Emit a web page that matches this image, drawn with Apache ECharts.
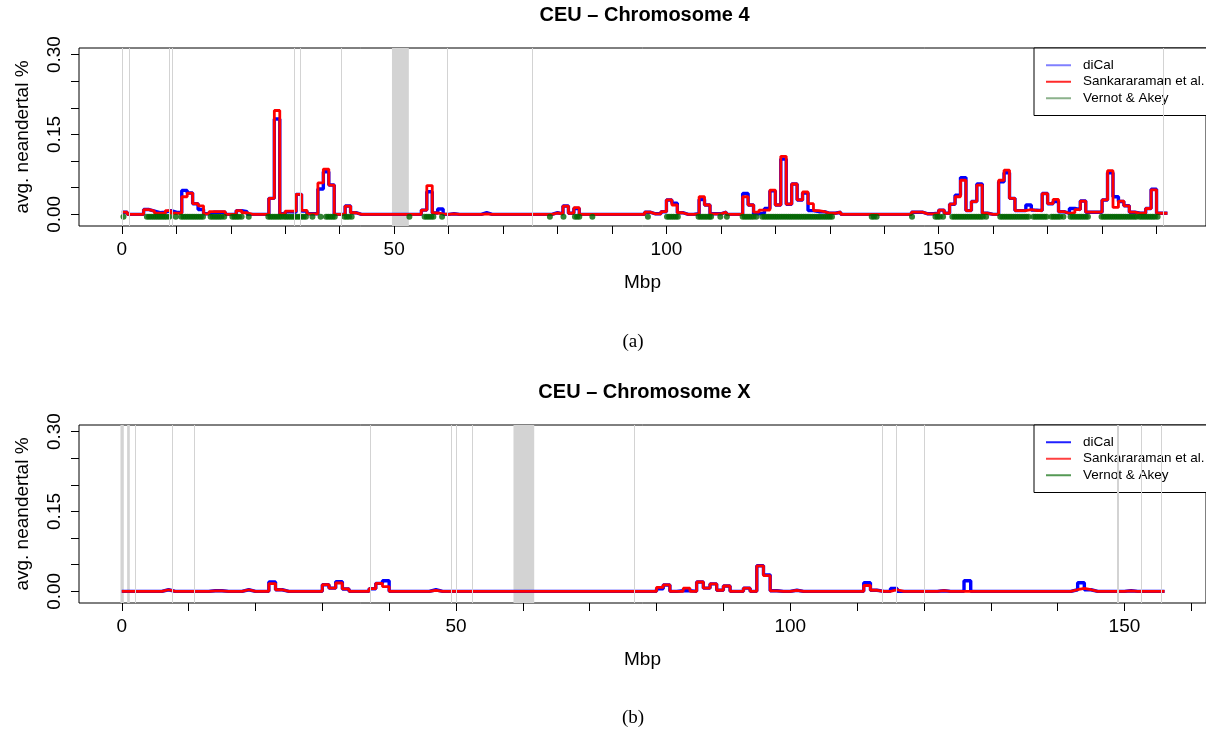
<!DOCTYPE html>
<html><head><meta charset="utf-8">
<script src="https://cdn.jsdelivr.net/npm/echarts@6/dist/echarts.min.js"></script>
<style>html,body{margin:0;padding:0;background:#fff}#c{width:1206px;height:733px}</style>
</head><body><div id="c"></div>
<script>
// ---- Chromosome 4: average Neandertal % per 1-Mbp window (window i = [i, i+1) Mbp)
const chr4Dical = [
.004,0,0,0,.009,.006,.003,.004,.007,.004, .003,.045,.040,.020,.009,.001,.004,.004,.004,0,
0,.007,.005,0,0,0,0,.030,.179,.001, .005,.004,.0375,.006,.001,.001,.0475,.080,.055,0,
0,.0156,.003,0,0,0,0,0,0,0, 0,0,0,0,0,.008,.0425,.0025,.010,0,
.001,0,0,0,0,0,.003,0,0,0, 0,0,0,0,0,0,0,0,0,.003,
.001,.0156,.002,.011,0,0,0,0,0,0, 0,0,0,0,0,0,.004,.001,.001,.005,
.027,.021,.003,0,0,.001,.028,.0175,.001,.001, .004,0,0,0,.039,.0175,.001,.002,.011,.044,
.0175,.104,.019,.057,.027,.040,.007,.005,.005,.002, .002,.004,0,0,0,0,0,0,0,0,
0,0,0,0,0,.004,.004,.001,.001,.002, .008,.002,.019,.036,.069,.007,.024,.057,.002,0,
0,.061,.078,.030,.007,.007,.0175,.008,.007,.039, .020,.024,.005,.002,.011,.009,.025,.004,.004,.004,
.027,.078,.033,.024,.016,.004,.002,.002,.011,.047, .002,.002];
const chr4Sank = [
.004,0,0,0,.009,.006,.002,.002,.007,.002, .002,.033,.040,.020,.016,.001,.005,.005,.005,0,
0,.007,.003,0,0,0,0,.030,.195,.001, .006,.006,.0375,.0075,.001,.001,.059,.085,.055,0,
0,.0156,.003,0,0,0,0,0,0,0, 0,0,0,0,0,.008,.054,.0025,.001,0,
.001,0,0,0,0,0,.001,0,0,0, 0,0,0,0,0,0,0,0,0,.0025,
.001,.0156,.002,.0125,0,0,0,0,0,0, 0,0,0,0,0,0,.004,.001,.001,.005,
.027,.0175,.003,0,0,.001,.033,.0175,.001,.001, .004,0,0,0,.033,.0175,.004,.008,.008,.0456,
.0175,.109,.019,.057,.027,.042,.020,.007,.005,.002, .002,.004,0,0,0,0,0,0,0,0,
0,0,0,0,0,.004,.004,.001,.001,.002, .008,.002,.019,.033,.064,.007,.024,.055,.002,0,
0,.064,.083,.030,.007,.007,.009,.007,.007,.039, .020,.028,.005,.002,.003,.009,.025,.004,.004,.004,
.027,.082,.013,.025,.016,.004,.002,.002,.011,.046, .002,.002];
// Vernot & Akey introgressed segment calls (Mbp), drawn as a row of dots under the baseline
const chr4Vernot = [0.3,4.6,5.0,5.4,5.8,6.2,6.6,7.0,7.4,7.8,8.2,8.7,9.9,10.9,11.3,11.7,12.1,12.5,12.9,13.3,13.7,14.1,14.5,14.9,
16.3,16.7,17.1,17.5,17.9,18.3,18.8,20.3,20.7,21.1,21.5,22.0,23.3,26.9,27.3,27.7,28.1,28.5,28.9,29.3,29.8,30.2,30.6,31.0,31.4,31.8,
32.2,32.6,33.0,33.4,33.8,35.0,36.5,37.5,37.9,38.3,38.7,39.1,40.9,41.3,41.7,42.2,52.8,55.6,56.0,56.4,56.8,57.2,58.8,78.6,81.1,
83.2,83.6,84.0,86.4,96.6,100.1,100.5,100.9,101.3,101.7,102.1,105.9,106.3,106.7,107.1,107.5,107.9,108.2,109.9,111.1,
114.0,114.4,114.8,115.2,115.6,116.0,116.5,117.6,118.0,118.4,118.8,119.2,119.6,120.0,120.4,120.8,121.2,121.6,122.0,122.4,122.8,
123.2,123.6,124.0,124.4,124.8,125.2,125.6,126.0,126.4,126.8,127.2,127.6,128.0,128.4,128.8,129.2,129.6,130.0,130.4,
137.7,138.1,138.6,145.1,149.4,149.8,150.2,150.8,152.5,152.9,153.3,153.7,154.1,154.5,154.9,155.3,155.7,156.1,156.5,156.9,157.3,
157.7,158.1,158.7,161.3,161.7,162.1,162.5,162.9,163.3,163.7,164.1,164.5,164.9,165.3,165.7,166.1,166.5,167.4,167.8,168.2,168.6,
169.0,169.4,169.8,170.7,171.1,171.5,171.9,172.3,172.9,174.2,174.6,175.0,175.4,175.8,176.2,176.6,177.0,177.4,179.9,180.3,180.7,
181.1,181.5,181.9,182.3,182.7,183.1,183.5,183.9,184.3,184.7,185.1,185.5,185.9,186.3,186.9,187.3,187.7,188.1,188.5,188.9,189.3,
189.7,190.2];
const vernotRowLevel = -0.0045;
const chr4GapLines = [0,1.3,8.7,9.2,31.7,32.8,40.3,59.8,75.4,191.2];
const chr4GapBands = [[49.6,52.7]];

// ---- Chromosome X
const chrXDical = [
0,0,0,0,0,0,.003,0,0,0, 0,0,0,.001,.001,0,0,0,.003,0,
0,0,.0175,.003,0,0,0,0,0,0, .0125,.006,.018,.0045,0,0,0,.005,.015,.020,
0,0,0,0,0,0,.003,0,0,0, 0,0,0,0,0,0,0,0,0,0,
0,0,0,0,0,0,0,0,0,0, 0,0,0,0,0,0,0,0,0,0,
.005,.012,0,.001,.001,0,.0175,.006,.014,.002, .010,0,0,.006,0,.048,.031,.001,0,0,
.002,0,0,0,0,0,0,0,0,0, 0,.016,.002,0,0,.0055,0,0,0,0,
0,0,.0012,0,0,0,.020,0,0,0, 0,0,0,0,0,0,0,0,0,0,
0,0,.003,.016,.003,0,0,0,0,0, .001,0,0,0,0,0];
const chrXSank = [
0,0,0,0,0,0,.003,0,0,0, 0,0,0,.001,.001,0,0,0,.003,0,
0,0,.0145,.003,0,0,0,0,0,0, .0125,.006,.0157,.0045,0,0,0,.005,.015,.009,
0,0,0,0,0,0,.002,0,0,0, 0,0,0,0,0,0,0,0,0,0,
0,0,0,0,0,0,0,0,0,0, 0,0,0,0,0,0,0,0,0,0,
.0075,.012,0,0,.006,0,.0175,.006,.014,.002, .010,0,0,.006,0,.048,.0295,.001,0,0,
.002,0,0,0,0,0,0,0,0,0, 0,.011,.002,0,0,.003,0,0,0,0,
0,0,.0012,0,0,0,0,0,0,0, 0,0,0,0,0,0,0,0,0,0,
0,0,.003,.0055,.003,0,0,0,0,0, .001,0,0,0,0,0];
const chrXGapLines = [2.0,7.6,10.8,37.1,49.3,50.0,52.4,76.7,113.7,115.9,120.1,149.0,152.5,155.5];
const chrXGapBands = [[-0.2,0.3],[0.8,1.2],[58.6,61.7]];

// ---- axes
const xTicks4 = [0,10,20,30,40,50,60,70,80,90,100,110,120,130,140,150,160,170,180,190];
const xTicksX = [0,10,20,30,40,50,60,70,80,90,100,110,120,130,140,150,160];
const xLabels = [0,50,100,150];
const yTicks = [0,0.05,0.10,0.15,0.20,0.25,0.30];
const yLabels = [0,0.15,0.30];
const seriesNames = ['diCal','Sankararaman et al.','Vernot & Akey'];

const FONT = '"Liberation Sans", Arial, Helvetica, sans-serif';

function steps(vals){
  const pts = vals.map((v,i)=>[i,v]);
  pts.push([vals.length, vals[vals.length-1]]);
  return pts;
}
function xAxisCfg(idx, min, max, ticks){
  return {type:'value', gridIndex:idx, min:min, max:max, position:'bottom',
    axisLine:{show:false, onZero:false},
    axisTick:{show:true, inside:false, customValues:ticks, length:8, lineStyle:{color:'#000', width:1}},
    axisLabel:{show:true, inside:false, customValues:xLabels, fontSize:19, color:'#000', fontFamily:FONT, margin:14},
    splitLine:{show:false},
    name:'Mbp', nameLocation:'middle', nameGap:47,
    nameTextStyle:{fontSize:19, color:'#000', fontFamily:FONT}};
}
function yAxisCfg(idx){
  return {type:'value', gridIndex:idx, min:-0.0219, max:0.3124, position:'left',
    axisLine:{show:false, onZero:false},
    axisTick:{show:true, inside:false, customValues:yTicks, length:8, lineStyle:{color:'#000', width:1}},
    axisLabel:{show:true, inside:false, customValues:yLabels, rotate:90, fontSize:19, color:'#000', fontFamily:FONT, margin:15,
      formatter:v=>v.toFixed(2)},
    splitLine:{show:false},
    name:'avg. neandertal %', nameLocation:'middle', nameGap:47, nameRotate:90,
    nameTextStyle:{fontSize:19, color:'#000', fontFamily:FONT}};
}
function gapSeries(idx, lines, bands, thick){
  return {type:'line', xAxisIndex:idx, yAxisIndex:idx, data:[], silent:true, z:1,
    markLine:{silent:true, symbol:['none','none'], label:{show:false},
      lineStyle:{color:'#d3d3d3', width:1, type:'solid'},
      data:lines.map(v=>({xAxis:v, lineStyle:{color:'#d3d3d3', width:(thick.indexOf(v)>=0?2:1), type:'solid'}}))},
    markArea:{silent:true, itemStyle:{color:'#d3d3d3'}, label:{show:false},
      data:bands.map(b=>[{xAxis:b[0]},{xAxis:b[1]}])}};
}
function stepSeries(idx, name, vals, color, width, z){
  return {type:'line', name:name, xAxisIndex:idx, yAxisIndex:idx, step:'end', data:steps(vals),
    symbol:'none', showSymbol:false, z:z, clip:true,
    lineStyle:{color:color, width:width}, itemStyle:{color:color}};
}
function legendCfg(top, colors){
  return {orient:'vertical', left:1034, top:top, icon:'rect', itemWidth:25, itemHeight:2, itemGap:0,
    padding:[9,20,9,12], borderColor:'#000', borderWidth:1, borderRadius:0, backgroundColor:'#fff',
    selectedMode:false,
    textStyle:{fontSize:13.5, color:'#000', fontFamily:FONT, lineHeight:16.5, padding:[0,0,0,7]},
    data:seriesNames.map((n,i)=>({name:n, icon:'rect', itemStyle:{color:colors[i]}}))};
}

const chart = echarts.init(document.getElementById('c'), null, {renderer:'canvas'});
chart.setOption({
  animation:false,
  backgroundColor:'#fff',
  grid:[
    {left:79, right:-4, top:48, height:178, show:true, borderColor:'#000', borderWidth:1, backgroundColor:'transparent'},
    {left:79, right:-6, top:425, height:178, show:true, borderColor:'#000', borderWidth:1, backgroundColor:'transparent'}
  ],
  xAxis:[xAxisCfg(0,-7.868,199.08,xTicks4), xAxisCfg(1,-6.40,162.2,xTicksX)],
  yAxis:[yAxisCfg(0), yAxisCfg(1)],
  legend:[legendCfg(48,['#8080ff','#ff2a2a','#6f9f6f']), legendCfg(425,['#2020ff','#ff4040','#2a7f2a'])],
  graphic:[
    {type:'text', x:644.5, y:15, style:{text:'CEU – Chromosome 4', font:'bold 20px '+FONT, textAlign:'center', textVerticalAlign:'middle', fill:'#000'}},
    {type:'text', x:644.5, y:392, style:{text:'CEU – Chromosome X', font:'bold 20px '+FONT, textAlign:'center', textVerticalAlign:'middle', fill:'#000'}},
    {type:'text', x:633, y:342, style:{text:'(a)', font:'19px "Liberation Serif", "DejaVu Serif", serif', textAlign:'center', textVerticalAlign:'middle', fill:'#000'}},
    {type:'text', x:633, y:718, style:{text:'(b)', font:'19px "Liberation Serif", "DejaVu Serif", serif', textAlign:'center', textVerticalAlign:'middle', fill:'#000'}}
  ],
  series:[
    gapSeries(0, chr4GapLines, chr4GapBands, []),
    stepSeries(0, 'diCal', chr4Dical, '#0000ff', 3.4, 2),
    stepSeries(0, 'Sankararaman et al.', chr4Sank, '#ff0000', 2.8, 3),
    {type:'scatter', name:'Vernot & Akey', xAxisIndex:0, yAxisIndex:0, z:4, symbol:'circle', symbolSize:6,
      itemStyle:{color:'#006400'}, data:chr4Vernot.map(x=>[x, vernotRowLevel])},
    gapSeries(1, chrXGapLines, chrXGapBands, [149.0]),
    stepSeries(1, 'diCal', chrXDical, '#0000ff', 3.4, 2),
    stepSeries(1, 'Sankararaman et al.', chrXSank, '#ff0000', 2.8, 3)
  ]
});
</script></body></html>
